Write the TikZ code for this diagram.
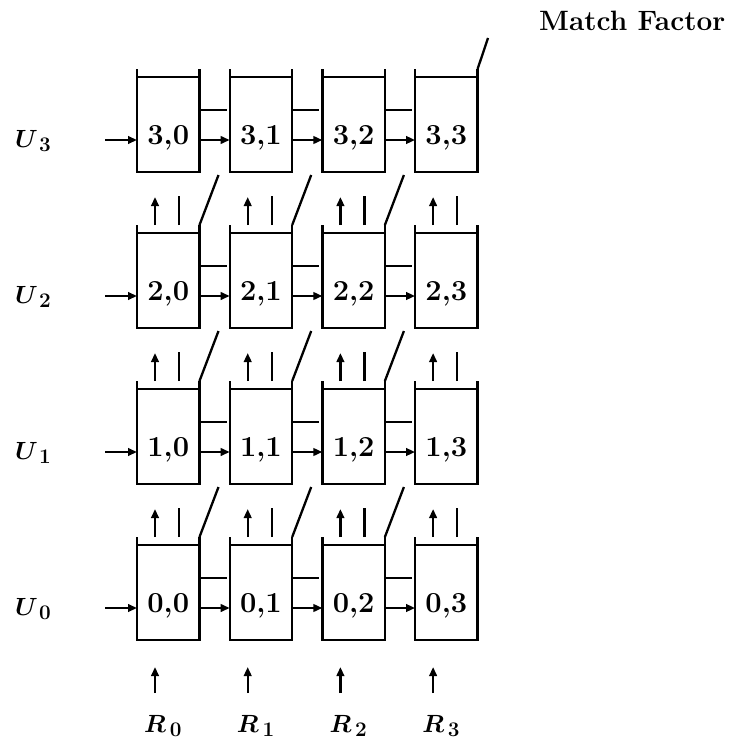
\documentclass[tikz,border=0pt]{standalone}
\usetikzlibrary{arrows.meta,calc}
\begin{document}
\begin{tikzpicture}[x=1pt,y=-1pt,
  line width=2.3pt,
  box/.style={draw,rectangle,minimum width=62.5pt,minimum height=95pt,inner sep=0pt,outer sep=0pt},
  num/.style={font=\fontsize{29}{34}\selectfont\bfseries,inner sep=0pt},
  lab/.style={font=\fontsize{28}{34}\selectfont\boldmath,inner sep=0pt},
  arr/.style={-{Triangle[length=9pt,width=7.5pt]}},
  plain/.style={-}]
\useasboundingbox (0,0) rectangle (730,744);
% boxes
\foreach \r in {0,...,3}{
  \foreach \c in {0,...,3}{
    \node[box] (b\r\c) at ({137+92.7*\c+31.25},{77+156*(3-\r)+47.5}) {};
    \node[num] (t\r\c) at ({137+92.7*\c+31.25},{77+156*(3-\r)+61}) {\r,\c};
    \draw (b\r\c.north west) -- ++(0,-8);
    \draw (b\r\c.north east) -- ++(0,-8);
  }
}
% horizontal connectors
\foreach \r in {0,...,3}{
  \foreach \c [evaluate=\c as \cn using {int(\c+1)}] in {0,1,2}{
    \draw ($(b\r\c.north east)+(0,33)$) -- ($(b\r\cn.north west)+(-3,33)$);
    \draw[arr] ($(b\r\c.north east)+(0,63)$) -- ($(b\r\cn.north west)+(0,63)$);
  }
  \coordinate (in\r) at ($(b\r0.north west)+(-32,63)$);
  \draw[arr] (in\r) -- ($(b\r0.north west)+(0,63)$);
  \node[lab,anchor=base west] (u\r) at (14,{77+156*(3-\r)+70}) {$U_{\,\r}$};
}
% vertical connectors between rows
\foreach \r [evaluate=\r as \ru using {int(\r+1)}] in {0,1,2}{
  \foreach \c in {0,...,3}{
    \draw[arr] ($(b\r\c.north west)+(18,-8)$) -- ($(b\ru\c.south west)+(18,25)$);
    \draw ($(b\r\c.north west)+(42,-8)$) -- ($(b\ru\c.south west)+(42,24)$);
  }
  \foreach \c in {0,1,2}{
    \draw ($(b\r\c.north east)+(0,-8)$) -- ($(b\ru\c.south east)+(19,3)$);
  }
}
% bottom inputs
\foreach \c in {0,...,3}{
  \coordinate (rin\c) at ($(b0\c.south west)+(18,53)$);
  \draw[arr] (rin\c) -- ($(b0\c.south west)+(18,27)$);
  \node[lab,anchor=base west] (r\c) at ({137+92.7*\c+6},732) {$R_{\,\c}$};
}
% match factor
\node[font=\fontsize{28}{34}\selectfont\bfseries,inner sep=0pt,anchor=base west] (mf) at (538,30) {Match Factor};
\coordinate (mfend) at (488,38);
\draw ($(b33.north east)+(0,-8)$) -- (mfend);
\end{tikzpicture}
\end{document}
